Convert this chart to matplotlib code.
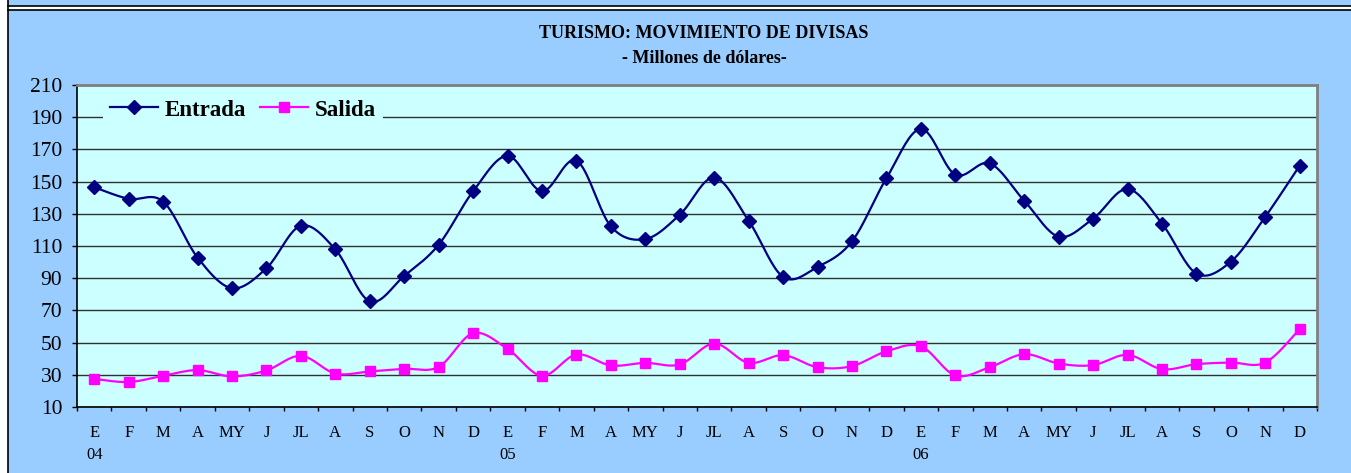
#!/usr/bin/env python3

import numpy as np
import matplotlib
matplotlib.use("Agg")
import matplotlib.pyplot as plt
from matplotlib.patches import Rectangle
from matplotlib.lines import Line2D

months = ["E", "F", "M", "A", "MY", "J", "JL", "A", "S", "O", "N", "D"] * 3
years = {0: "04", 12: "05", 24: "06"}

entrada = [146.5, 139.3, 137.6, 102.8, 83.8, 96.2, 122.6, 107.9, 75.6, 91.4, 110.8, 144.0,
           166.0, 144.0, 163.0, 122.2, 114.3, 129.4, 152.5, 125.7, 90.8, 97.0, 112.9, 152.1,
           182.7, 154.3, 161.3, 138.1, 115.8, 127.0, 145.4, 123.9, 92.9, 100.3, 128.2, 160.0]
salida = [27.5, 25.5, 29.4, 32.9, 29.0, 32.7, 41.8, 30.8, 32.1, 33.7, 34.9, 55.8,
          46.1, 29.4, 42.6, 35.8, 37.4, 36.4, 49.4, 37.4, 42.2, 34.7, 35.4, 44.6,
          47.7, 29.6, 34.7, 42.8, 37.0, 36.0, 42.4, 33.5, 36.6, 37.6, 37.6, 58.5]

W, H = 1351, 473
SERIF = ["Liberation Serif", "DejaVu Serif"]


def smooth(y, steps=20):
    # Catmull-Rom curve through the points, like Excel's smoothed line
    y = np.asarray(y, dtype=float)
    x = np.arange(len(y), dtype=float)
    px = np.concatenate([[x[0]], x, [x[-1]]])
    py = np.concatenate([[y[0]], y, [y[-1]]])
    xs, ys = [], []
    t = np.linspace(0, 1, steps, endpoint=False)
    for i in range(1, len(px) - 2):
        for p, out in ((px, xs), (py, ys)):
            p0, p1, p2, p3 = p[i - 1], p[i], p[i + 1], p[i + 2]
            out.extend(0.5 * ((2 * p1) + (-p0 + p2) * t
                              + (2 * p0 - 5 * p1 + 4 * p2 - p3) * t ** 2
                              + (-p0 + 3 * p1 - 3 * p2 + p3) * t ** 3))
    xs.append(x[-1])
    ys.append(y[-1])
    return np.array(xs), np.array(ys)


def fx(px):
    return px / W


def fy(py):
    return 1 - py / H


def main():
    fig = plt.figure(figsize=(W / 100, H / 100), dpi=100, facecolor="white")

    # frames of the sheet
    fig.add_artist(Rectangle((fx(8), fy(6.5)), 1, 1, transform=fig.transFigure,
                             facecolor="#99CCFF", edgecolor="none", zorder=0))
    fig.add_artist(Rectangle((fx(8), 0), 1, fy(10), transform=fig.transFigure,
                             facecolor="#99CCFF", edgecolor="none", zorder=0))
    for yy in (6.5, 10):
        fig.add_artist(Line2D([fx(8), 1], [fy(yy), fy(yy)], transform=fig.transFigure,
                              color="black", lw=1.2))
    fig.add_artist(Line2D([fx(8), fx(8)], [0, 1], transform=fig.transFigure,
                          color="black", lw=1.2))

    ax = fig.add_axes([fx(77), fy(407), fx(1317) - fx(77), fy(85) - fy(407)])
    ax.set_facecolor("#CCFFFF")

    x = np.arange(len(months))
    sx, sy = smooth(entrada)
    ax.plot(sx, sy, color="#000080", lw=1.6, zorder=3)
    ax.plot(x, entrada, ls="none", marker="D", ms=6.8, color="#000080", zorder=4)
    sx, sy = smooth(salida)
    ax.plot(sx, sy, color="#FF00FF", lw=1.6, zorder=3)
    ax.plot(x, salida, ls="none", marker="s", ms=7, color="#FF00FF", zorder=4)

    ax.set_xlim(-0.5, len(months) - 0.5)
    ax.set_ylim(10, 210)
    ax.set_yticks(np.arange(10, 211, 20))
    ax.yaxis.grid(True, color="#303030", lw=1)
    ax.set_axisbelow(True)

    ax.set_xticks(np.arange(-0.5, len(months), 1))
    ax.set_xticklabels([])
    ax.set_xticks(x, minor=True)
    labels = [m + ("\n" + years[i] if i in years else "\n ") for i, m in enumerate(months)]
    ax.set_xticklabels(labels, minor=True, family=SERIF, fontsize=12, linespacing=1.5)
    ax.tick_params(axis="x", which="major", direction="out", length=3, width=1)
    ax.tick_params(axis="x", which="minor", length=0, pad=13)
    ax.tick_params(axis="y", direction="out", length=3.6, width=1, pad=7)
    for lab in ax.get_yticklabels():
        lab.set_family(SERIF)
        lab.set_fontsize(15.5)

    for side in ("top", "right"):
        ax.spines[side].set_color("#808080")
        ax.spines[side].set_linewidth(2)
    for side in ("left", "bottom"):
        ax.spines[side].set_color("black")
        ax.spines[side].set_linewidth(1.2)

    h1 = Line2D([], [], color="#000080", lw=1.6, marker="D", ms=6.8)
    h2 = Line2D([], [], color="#FF00FF", lw=1.6, marker="s", ms=7)
    leg = ax.legend([h1, h2], ["Entrada", "Salida"], loc="center left",
                    bbox_to_anchor=((103 - 77) / 1240, 1 - (110 - 85) / 322),
                    ncol=2, frameon=True, fancybox=False, borderaxespad=0,
                    borderpad=0.3, handlelength=2.1, handletextpad=0.3,
                    columnspacing=0.6,
                    prop={"family": SERIF, "weight": "bold", "size": 16.5})
    leg.get_frame().set_facecolor("#CCFFFF")
    leg.get_frame().set_edgecolor("none")
    leg.get_frame().set_alpha(1)

    fig.text(fx(704), fy(34), "TURISMO: MOVIMIENTO DE DIVISAS", ha="center", va="center",
             family=SERIF, weight="bold", fontsize=13)
    fig.text(fx(704), fy(58), "- Millones de dólares-", ha="center", va="center",
             family=SERIF, weight="bold", fontsize=13)

    fig.savefig("out.png", dpi=100, facecolor=fig.get_facecolor())


if __name__ == "__main__":
    main()
